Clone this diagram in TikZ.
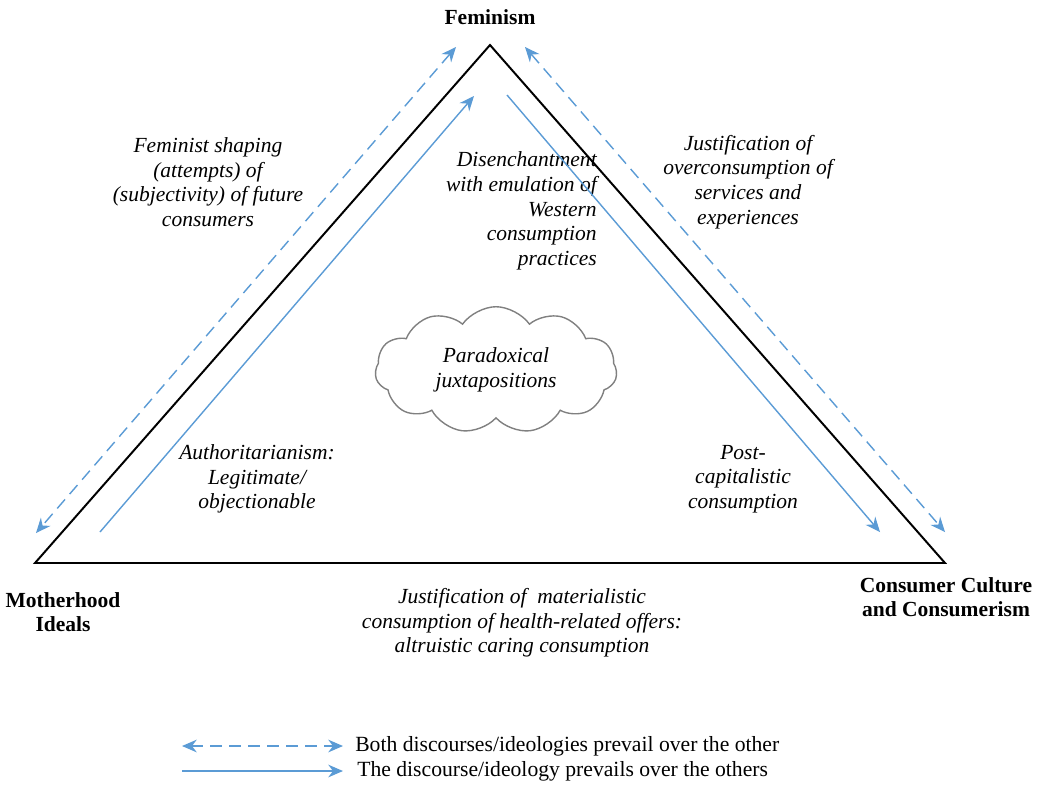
\documentclass[tikz,border=0pt]{standalone}
\usepackage{fontspec}
\setmainfont{Liberation Serif}
\usetikzlibrary{shapes.symbols, arrows, arrows.meta}
\definecolor{linkblue}{RGB}{91,155,213}
\tikzstyle{corner} = [font=\fontsize{15.3}{17.5}\selectfont\bfseries, align=center, inner sep=0pt]
\tikzstyle{discourse} = [font=\fontsize{15.3}{17.5}\selectfont\itshape, align=center, inner sep=0pt]
\tikzstyle{legendtext} = [font=\fontsize{15.4}{17.5}\selectfont, anchor=west, inner sep=0pt]
\tikzstyle{bubble} = [cloud, cloud puffs=11, cloud puff arc=110, aspect=1.9, minimum width=172pt, minimum height=90pt, draw=black!50, line width=1pt, font=\fontsize{15.3}{17.5}\selectfont\itshape, align=center, inner sep=0pt]
\tikzstyle{side} = [line width=1.4pt, black]
\tikzstyle{prevail} = [linkblue, line width=1pt, -{Stealth[length=10.5pt,width=9pt]}]
\tikzstyle{both} = [linkblue, line width=1pt, dash pattern=on 8.5pt off 5pt, {Stealth[length=10.5pt,width=9pt]}-{Stealth[length=10.5pt,width=9pt]}]

\begin{document}
\begin{tikzpicture}[x=0.025cm, y=-0.025cm]
\useasboundingbox (0,0) rectangle (1044,785);

% triangle corners
\coordinate (apex) at (490,45);
\coordinate (mother) at (35,563);
\coordinate (consumer) at (945,563);

\node (feminism) [corner] at (490,17) {Feminism};
\node (motherhood) [corner] at (63,612) {Motherhood\\Ideals};
\node (consumerism) [corner] at (946,597) {Consumer Culture\\and Consumerism};

% discourses
\node (shaping) [discourse] at (208,182) {Feminist shaping\\(attempts) of\\(subjectivity) of future\\consumers};
\node (overcons) [discourse] at (748,182) {Justification of\\overconsumption of\\services and\\experiences};
\node (disench) [discourse, anchor=east, align=right] at (597,211) {Disenchantment\\with emulation of\\Western\\consumption\\practices};
\node (paradox) [bubble] at (496,370) {Paradoxical\\juxtapositions};
\node (authority) [discourse] at (257,479) {Authoritarianism:\\Legitimate/\\objectionable};
\node (postcap) [discourse] at (743,479) {Post-\\capitalistic\\consumption};
\node (altruist) [discourse] at (522,623) {Justification of\ \ materialistic\\consumption of health-related offers:\\altruistic caring consumption};

% arrow ends
\coordinate (dl_top) at (456,47);
\coordinate (dl_bot) at (36,533);
\coordinate (fl_bot) at (100,532);
\coordinate (fl_top) at (474,96);
\coordinate (dr_top) at (525,47);
\coordinate (dr_bot) at (945,532);
\coordinate (fr_top) at (507,95);
\coordinate (fr_bot) at (880,532);

\draw [side] (apex) -- (mother) -- (consumer) -- cycle;
\draw [both] (dl_top) -- (dl_bot);
\draw [both] (dr_top) -- (dr_bot);
\draw [prevail] (fl_bot) -- (fl_top);
\draw [prevail] (fr_top) -- (fr_bot);

% legend
\node (bothtext) [legendtext] at (355,746) {Both discourses/ideologies prevail over the other};
\node (onetext) [legendtext] at (357,771) {The discourse/ideology prevails over the others};
\coordinate (lg_a) at (182,746);
\coordinate (lg_b) at (343,746);
\coordinate (lg_c) at (182,771);
\coordinate (lg_d) at (343,771);
\draw [both] (lg_a) -- (lg_b);
\draw [prevail] (lg_c) -- (lg_d);
\end{tikzpicture}
\end{document}
